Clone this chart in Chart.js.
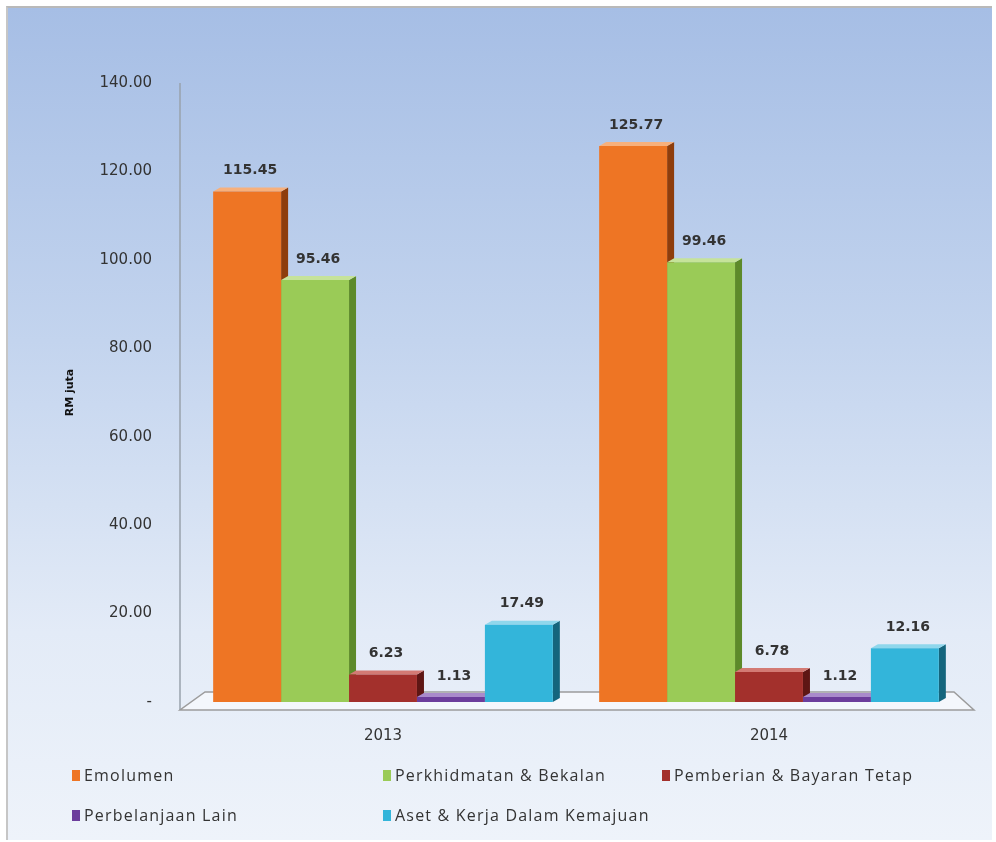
<!DOCTYPE html>
<html>
<head>
<meta charset="utf-8">
<script src="https://cdn.jsdelivr.net/npm/chart.js@4"></script>
<style>
    body { margin: 0; background: #fff; font-family: "Open Sans", sans-serif; }
    #frame {
        position: absolute; left: 6px; top: 6px; width: 984px; height: 832px;
        border-top: 2px solid #b9b9b9; border-left: 2px solid #c6c6c6;
        background: linear-gradient(#a6bee5 0%, #c3d4ee 40%, #e3ebf7 75%, #eef3fa 100%);
    }
    #chart { position: absolute; left: 0; top: 0; }
    #legend {
        position: absolute; left: 64px; top: 756px;
        display: grid; grid-template-columns: 311px 279px auto; row-gap: 18px;
    }
    .item { display: flex; align-items: center; font-size: 16px; color: #333; letter-spacing: 1.2px; height: 22px; }
    .swatch { width: 8px; height: 11px; margin-right: 4px; }
</style>
</head>
<body>
<div id="frame">
    <canvas id="chart" width="984" height="769"></canvas>
    <div id="legend"></div>
</div>
<script>
    const years = ['2013', '2014'];
    const seriesNames = ['Emolumen', 'Perkhidmatan & Bekalan', 'Pemberian & Bayaran Tetap', 'Perbelanjaan Lain', 'Aset & Kerja Dalam Kemajuan'];
    const emolumen = [115.45, 125.77];
    const perkhidmatan = [95.46, 99.46];
    const pemberian = [6.23, 6.78];
    const perbelanjaanLain = [1.13, 1.12];
    const aset = [17.49, 12.16];
    const seriesValues = [emolumen, perkhidmatan, pemberian, perbelanjaanLain, aset];
    const yTicks = [0, 20, 40, 60, 80, 100, 120, 140];

    const colors = ['#ee7524', '#9acb57', '#a3302c', '#6c3d9c', '#33b5da'];
    const sideColors = ['#8e3d0c', '#5d8a2a', '#5e1614', '#3c1f5c', '#14657d'];
    const topColors = ['#f7b07c', '#c6e39a', '#d37a74', '#a98acb', '#8fd7ec'];

    // floor, axis line and the depth faces of the bars
    const depthPlugin = {
        id: 'depth',
        beforeDatasetsDraw(chart) {
            const { ctx, chartArea: a } = chart;
            const yb = chart.scales.y.getPixelForValue(0);
            const yt = chart.scales.y.getPixelForValue(140);
            const axisX = a.left - 10;
            ctx.save();
            ctx.strokeStyle = '#98a2ad';
            ctx.lineWidth = 1.5;
            ctx.beginPath();
            ctx.moveTo(axisX, yt);
            ctx.lineTo(axisX, yb + 8);
            ctx.stroke();

            ctx.beginPath();
            ctx.moveTo(axisX, yb + 8);
            ctx.lineTo(a.right + 12, yb + 8);
            ctx.lineTo(a.right - 8, yb - 10);
            ctx.lineTo(axisX + 25, yb - 10);
            ctx.closePath();
            ctx.fillStyle = 'rgba(248,250,253,0.75)';
            ctx.fill();
            ctx.strokeStyle = '#9c9c9c';
            ctx.stroke();

            const d = 7, dy = 4;
            chart.data.datasets.forEach((ds, i) => {
                chart.getDatasetMeta(i).data.forEach((bar) => {
                    const x0 = bar.x - bar.width / 2;
                    const x1 = bar.x + bar.width / 2;
                    const top = bar.y;
                    ctx.fillStyle = sideColors[i];
                    ctx.beginPath();
                    ctx.moveTo(x1, top);
                    ctx.lineTo(x1 + d, top - dy);
                    ctx.lineTo(x1 + d, bar.base - dy);
                    ctx.lineTo(x1, bar.base);
                    ctx.closePath();
                    ctx.fill();
                    ctx.fillStyle = topColors[i];
                    ctx.beginPath();
                    ctx.moveTo(x0, top);
                    ctx.lineTo(x0 + d, top - dy);
                    ctx.lineTo(x1 + d, top - dy);
                    ctx.lineTo(x1, top);
                    ctx.closePath();
                    ctx.fill();
                });
            });
            ctx.restore();
        },
    };

    const labelPlugin = {
        id: 'valueLabels',
        afterDatasetsDraw(chart) {
            const { ctx } = chart;
            ctx.save();
            ctx.font = 'bold 14px "DejaVu Sans"';
            ctx.fillStyle = '#333';
            ctx.textAlign = 'center';
            ctx.textBaseline = 'middle';
            chart.data.datasets.forEach((ds, i) => {
                chart.getDatasetMeta(i).data.forEach((bar, j) => {
                    ctx.fillText(ds.data[j].toFixed(2), bar.x + 3, bar.y - 21);
                });
            });
            ctx.restore();
        },
    };

    const ctx = document.getElementById('chart').getContext('2d');
    ctx.letterSpacing = '0.6px';

    new Chart(ctx, {
        type: 'bar',
        data: {
            labels: years,
            datasets: seriesNames.map((name, i) => ({
                label: name,
                data: seriesValues[i],
                backgroundColor: colors[i],
                borderWidth: 0,
                categoryPercentage: 0.88,
                barPercentage: 1.0,
            })),
        },
        options: {
            responsive: false,
            animation: false,
            layout: { padding: { left: 52, right: 30, top: 75, bottom: 7 } },
            plugins: { legend: { display: false }, tooltip: { enabled: false } },
            scales: {
                x: {
                    grid: { display: false, drawTicks: false },
                    border: { display: false },
                    ticks: { color: '#333', font: { family: 'DejaVu Sans', size: 15 }, padding: 25 },
                },
                y: {
                    min: yTicks[0],
                    max: yTicks[yTicks.length - 1],
                    afterBuildTicks(scale) {
                        scale.ticks = yTicks.map((v) => ({ value: v }));
                    },
                    afterFit(scale) {
                        scale.width = 130;
                    },
                    ticks: {
                        color: '#333',
                        font: { family: 'DejaVu Sans', size: 15 },
                        padding: 38,
                        callback: (v) => (v === 0 ? '-' : Number(v).toFixed(2)),
                    },
                    grid: { display: false, drawTicks: false },
                    border: { display: false },
                    title: { display: true, text: 'RM juta', color: '#111', font: { family: 'DejaVu Sans', size: 11, weight: 'bold' } },
                },
            },
        },
        plugins: [depthPlugin, labelPlugin],
    });

    const legend = document.getElementById('legend');
    seriesNames.forEach((name, i) => {
        const item = document.createElement('div');
        item.className = 'item';
        item.innerHTML = `<span class="swatch" style="background:${colors[i]}"></span>`;
        item.appendChild(document.createTextNode(name));
        legend.appendChild(item);
    });
</script>
</body>
</html>
